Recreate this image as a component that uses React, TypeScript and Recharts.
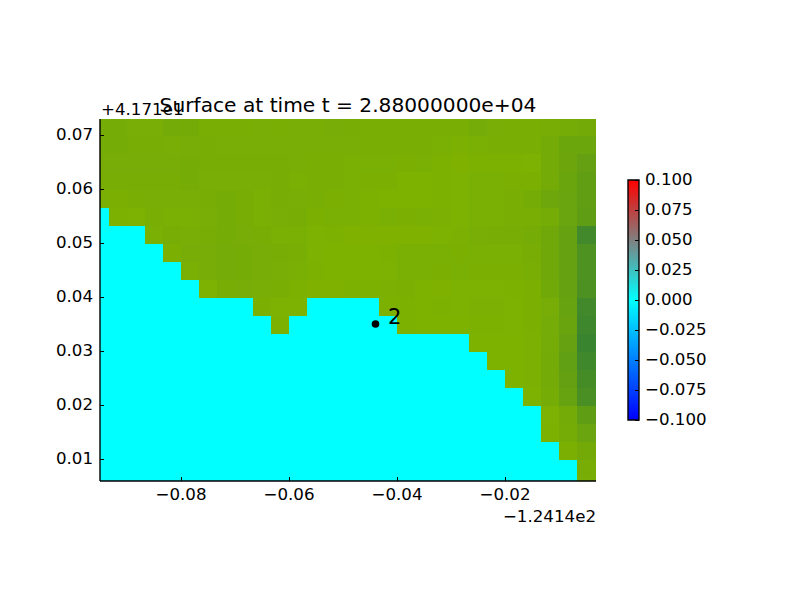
import React from 'react';
import {
  ScatterChart,
  Scatter,
  XAxis,
  YAxis,
  ReferenceArea,
  LabelList,
} from 'recharts';

const W = 800;
const H = 600;
const FONT = '"DejaVu Sans", sans-serif';

const lonTicks = [-0.08, -0.06, -0.04, -0.02];
const latTicks = [0.01, 0.02, 0.03, 0.04, 0.05, 0.06, 0.07];
const lonDomain = [-0.095, -0.00315];
const latDomain = [0.005926, 0.072963];

// cell edges of the surface grid
const lonEdges = [
  -0.095, -0.09333, -0.09, -0.08667, -0.08333, -0.08, -0.07667, -0.07333, -0.07, -0.06667,
  -0.06333, -0.06, -0.05667, -0.05333, -0.05, -0.04667, -0.04333, -0.04, -0.03667, -0.03333,
  -0.03, -0.02667, -0.02333, -0.02, -0.01667, -0.01333, -0.01, -0.00667, -0.00315,
];
const latEdges = [
  0.072963, 0.06981, 0.06648, 0.06315, 0.05981, 0.05648, 0.05315, 0.04981, 0.04648, 0.04315, 0.03981,
  0.03648, 0.03315, 0.02981, 0.02648, 0.02315, 0.01981, 0.01648, 0.01315, 0.00981, 0.00648, 0.005926,
];

// land height per cell (0-100 on the land colour ramp), x = water
const x = -1;
const landHeights = [
  [12, 12, 9, 9, 15, 14, 8, 8, 8, 9, 8, 9, 9, 11, 10, 8, 8, 8, 8, 8, 8, 13, 9, 8, 8, 10, 12, 16],
  [12, 12, 10, 10, 9, 11, 10, 9, 9, 9, 9, 9, 9, 9, 9, 8, 8, 8, 8, 6, 4, 6, 8, 8, 8, 14, 25, 25],
  [11, 11, 11, 11, 11, 12, 10, 10, 10, 10, 10, 9, 8, 8, 7, 7, 7, 5, 6, 2, 0, 2, 2, 2, 3, 14, 24, 36],
  [10, 10, 10, 10, 10, 12, 9, 9, 9, 9, 10, 7, 8, 8, 7, 5, 5, 1, 1, 2, 3, 6, 6, 5, 5, 14, 26, 40],
  [7, 5, 8, 9, 9, 9, 10, 12, 10, 6, 10, 9, 8, 5, 7, 2, 1, 1, 1, 2, 3, 6, 6, 8, 12, 22, 28, 40],
  [x, 2, 3, 8, 7, 7, 9, 12, 10, 7, 9, 10, 5, 6, 6, 2, 6, 5, 6, 4, 3, 7, 7, 8, 8, 12, 28, 42],
  [x, x, x, 7, 10, 9, 10, 12, 11, 10, 7, 6, 3, 2, 0, 0, 0, 0, 0, 3, 4, 9, 10, 10, 12, 20, 34, 82],
  [x, x, x, x, 5, 11, 11, 13, 12, 11, 10, 8, 3, 1, 1, 1, 2, 6, 7, 6, 5, 6, 6, 7, 10, 20, 34, 64],
  [x, x, x, x, x, 6, 11, 13, 12, 11, 9, 7, 2, 1, 1, 1, 3, 6, 6, 5, 6, 5, 5, 5, 8, 20, 34, 64],
  [x, x, x, x, x, x, 3, 10, 11, 9, 8, 2, 0, 0, 2, 2, 4, 5, 1, 0, 3, 3, 3, 2, 5, 18, 34, 66],
  [x, x, x, x, x, x, x, x, x, 5, 3, 3, x, x, x, x, 2, 2, 1, 2, 3, 4, 4, 3, 5, 11, 32, 82],
  [x, x, x, x, x, x, x, x, x, x, 2, x, x, x, x, x, x, 2, 1, 1, 1, 2, 2, 3, 5, 13, 29, 86],
  [x, x, x, x, x, x, x, x, x, x, x, x, x, x, x, x, x, x, x, x, x, 1, 1, 1, 4, 13, 34, 92],
  [x, x, x, x, x, x, x, x, x, x, x, x, x, x, x, x, x, x, x, x, x, x, 1, 1, 4, 14, 39, 84],
  [x, x, x, x, x, x, x, x, x, x, x, x, x, x, x, x, x, x, x, x, x, x, x, 1, 4, 14, 36, 76],
  [x, x, x, x, x, x, x, x, x, x, x, x, x, x, x, x, x, x, x, x, x, x, x, x, 3, 12, 32, 70],
  [x, x, x, x, x, x, x, x, x, x, x, x, x, x, x, x, x, x, x, x, x, x, x, x, x, 3, 14, 42],
  [x, x, x, x, x, x, x, x, x, x, x, x, x, x, x, x, x, x, x, x, x, x, x, x, x, 2, 12, 28],
  [x, x, x, x, x, x, x, x, x, x, x, x, x, x, x, x, x, x, x, x, x, x, x, x, x, x, 5, 16],
  [x, x, x, x, x, x, x, x, x, x, x, x, x, x, x, x, x, x, x, x, x, x, x, x, x, x, x, 10],
  [x, x, x, x, x, x, x, x, x, x, x, x, x, x, x, x, x, x, x, x, x, x, x, x, x, x, x, 9],
];

const gauges = [{ lon: -0.04398, lat: 0.035, name: '2' }];

const barTicks = [-0.1, -0.075, -0.05, -0.025, 0, 0.025, 0.05, 0.075, 0.1];
const barStops = [
  { at: '0%', color: '#ff0000' },
  { at: '50%', color: '#00ffff' },
  { at: '100%', color: '#0000ff' },
];

const WATER = '#00ffff';
const LAND_LOW = [127, 178, 0];
const LAND_HIGH = [51, 128, 51];

const cellColor = (h: number) => {
  if (h < 0) return WATER;
  const c = LAND_LOW.map((v, i) => Math.round(v + ((LAND_HIGH[i] - v) * h) / 100));
  return `rgb(${c[0]},${c[1]},${c[2]})`;
};

const minus = (s: string) => s.replace('-', '\u2212');
const tickStyle = { fill: '#000', fontSize: 16.67, fontFamily: FONT };
const spine = { stroke: '#000', strokeWidth: 1.4 };
const tickMark = { stroke: '#000', strokeWidth: 1, shapeRendering: 'crispEdges' };

const App = () => (
  <div style={{ position: 'absolute', left: 0, top: 0, width: W, height: H, background: '#fff' }}>
    <div style={{ position: 'absolute', left: 0, top: 0 }}>
      <ScatterChart width={W} height={H} margin={{ top: 119, right: 204, bottom: 0, left: 0 }}>
        <XAxis
          type="number"
          dataKey="lon"
          domain={lonDomain}
          ticks={lonTicks}
          allowDataOverflow
          height={119}
          tickSize={-4}
          tickMargin={11}
          axisLine={spine}
          tickLine={tickMark}
          tick={tickStyle}
          tickFormatter={(v: number) => minus(v.toFixed(2))}
        />
        <XAxis
          xAxisId="top"
          orientation="top"
          type="number"
          domain={lonDomain}
          ticks={lonTicks}
          allowDataOverflow
          height={0}
          tickSize={-4}
          axisLine={spine}
          tickLine={tickMark}
          tick={false}
        />
        <YAxis
          type="number"
          dataKey="lat"
          domain={latDomain}
          ticks={latTicks}
          allowDataOverflow
          width={100}
          tickSize={-4}
          tickMargin={11}
          dy={-1}
          axisLine={spine}
          tickLine={tickMark}
          tick={tickStyle}
          tickFormatter={(v: number) => v.toFixed(2)}
        />
        <YAxis
          yAxisId="right"
          orientation="right"
          type="number"
          domain={latDomain}
          ticks={latTicks}
          allowDataOverflow
          width={0}
          tickSize={-4}
          axisLine={spine}
          tickLine={tickMark}
          tick={false}
        />
        {landHeights.map((row, r) =>
          row.map((h, c) => (
            <ReferenceArea
              key={`${r}-${c}`}
              x1={lonEdges[c]}
              x2={lonEdges[c + 1]}
              y1={latEdges[r + 1]}
              y2={latEdges[r]}
              fill={cellColor(h)}
              fillOpacity={1}
              stroke="none"
              shapeRendering="crispEdges"
              ifOverflow="visible"
            />
          ))
        )}
        <Scatter data={gauges} fill="#000" isAnimationActive={false} shape={(p: any) => <circle cx={p.cx} cy={p.cy} r={3.8} fill="#000" />}>
          <LabelList dataKey="name" position="right" offset={8} dy={-7} fill="#000" fontSize={21} fontFamily={FONT} />
        </Scatter>
        <text x={348} y={112} textAnchor="middle" fontSize={20.2} fontFamily={FONT} fill="#000">
          Surface at time t = 2.88000000e+04
        </text>
        <text x={101} y={115} fontSize={16.67} fontFamily={FONT} fill="#000">
          +4.171e1
        </text>
        <text x={596} y={522} textAnchor="end" fontSize={16.67} fontFamily={FONT} fill="#000">
          {'\u22121.2414e2'}
        </text>
      </ScatterChart>
    </div>
    <div style={{ position: 'absolute', left: 0, top: 0 }}>
      <ScatterChart width={W} height={H} margin={{ top: 180, right: 0, bottom: 180, left: 628 }}>
        <defs>
          <linearGradient id="surfaceBar" x1="0" y1="0" x2="0" y2="1">
            {barStops.map((s) => (
              <stop key={s.at} offset={s.at} stopColor={s.color} />
            ))}
          </linearGradient>
        </defs>
        <XAxis type="number" dataKey="pos" domain={[0, 1]} allowDataOverflow hide />
        <YAxis
          orientation="right"
          type="number"
          dataKey="level"
          domain={[-0.1, 0.1]}
          ticks={barTicks}
          allowDataOverflow
          width={161}
          tickSize={-4}
          tickMargin={10}
          dy={-1}
          axisLine={false}
          tickLine={tickMark}
          tick={tickStyle}
          tickFormatter={(v: number) => minus(v.toFixed(3))}
        />
        <ReferenceArea x1={0} x2={1} y1={-0.1} y2={0.1} fill="url(#surfaceBar)" fillOpacity={1} stroke="#000" strokeWidth={1.4} />
      </ScatterChart>
    </div>
  </div>
);

export default App;
